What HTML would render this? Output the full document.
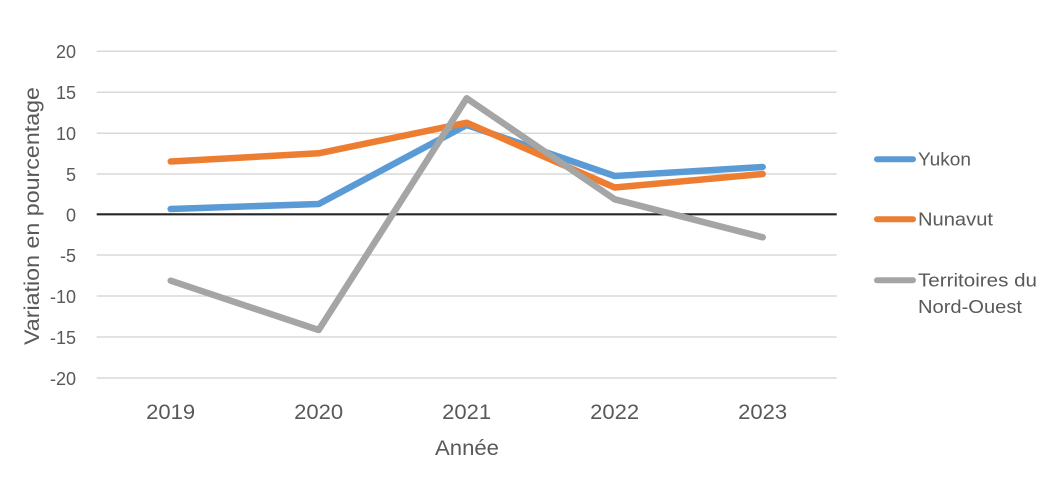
<!DOCTYPE html>
<html><head><meta charset="utf-8"><style>
html,body{margin:0;padding:0;background:#fff;}
svg{display:block;}
text{font-family:"Liberation Sans",sans-serif;fill:#595959;}
</style></head><body>
<svg width="1054" height="479" viewBox="0 0 1054 479" xmlns="http://www.w3.org/2000/svg">
<g stroke="#D9D9D9" stroke-width="1.5">
<line x1="96.7" y1="51.3" x2="836.7" y2="51.3"/>
<line x1="96.7" y1="92.3" x2="836.7" y2="92.3"/>
<line x1="96.7" y1="133.3" x2="836.7" y2="133.3"/>
<line x1="96.7" y1="174" x2="836.7" y2="174"/>
<line x1="96.7" y1="255" x2="836.7" y2="255"/>
<line x1="96.7" y1="296" x2="836.7" y2="296"/>
<line x1="96.7" y1="337" x2="836.7" y2="337"/>
<line x1="96.7" y1="378" x2="836.7" y2="378"/>
</g>
<line x1="96.7" y1="214.3" x2="836.7" y2="214.3" stroke="#262626" stroke-width="2.2"/>
<g font-size="18" text-anchor="end">
<text x="76" y="58">20</text>
<text x="76" y="99">15</text>
<text x="76" y="140">10</text>
<text x="76" y="181">5</text>
<text x="76" y="221.5">0</text>
<text x="76" y="262">-5</text>
<text x="76" y="303">-10</text>
<text x="76" y="344">-15</text>
<text x="76" y="385">-20</text>
</g>
<g font-size="21" text-anchor="middle">
<text x="170.7" y="419" textLength="49" lengthAdjust="spacingAndGlyphs">2019</text>
<text x="318.7" y="419" textLength="49" lengthAdjust="spacingAndGlyphs">2020</text>
<text x="466.7" y="419" textLength="49" lengthAdjust="spacingAndGlyphs">2021</text>
<text x="614.7" y="419" textLength="49" lengthAdjust="spacingAndGlyphs">2022</text>
<text x="762.7" y="419" textLength="49" lengthAdjust="spacingAndGlyphs">2023</text>
</g>
<text x="467" y="455" font-size="21" text-anchor="middle" textLength="64" lengthAdjust="spacingAndGlyphs">Année</text>
<text transform="translate(39,216) rotate(-90)" font-size="21" text-anchor="middle" textLength="258" lengthAdjust="spacingAndGlyphs">Variation en pourcentage</text>
<g fill="none" stroke-width="6.5" stroke-linejoin="round" stroke-linecap="round">
<polyline stroke="#5B9BD5" points="170.7,209 318.7,204 466.7,125 614.7,176 762.7,167"/>
<polyline stroke="#ED7D31" points="170.7,161.5 318.7,153.3 466.7,122.7 614.7,187.5 762.7,174"/>
<polyline stroke="#A5A5A5" points="170.7,280.7 318.7,330 466.7,98.3 614.7,199.3 762.7,237.3"/>
</g>
<g stroke-width="6" stroke-linecap="round">
<line x1="877" y1="159.3" x2="913" y2="159.3" stroke="#5B9BD5"/>
<line x1="877" y1="219.3" x2="913" y2="219.3" stroke="#ED7D31"/>
<line x1="877" y1="280.3" x2="913" y2="280.3" stroke="#A5A5A5"/>
</g>
<g font-size="18">
<text x="918" y="165.5" textLength="53" lengthAdjust="spacingAndGlyphs">Yukon</text>
<text x="918" y="225.5" textLength="75" lengthAdjust="spacingAndGlyphs">Nunavut</text>
<text x="918" y="286.5" textLength="119" lengthAdjust="spacingAndGlyphs">Territoires du</text>
<text x="918" y="313" textLength="104" lengthAdjust="spacingAndGlyphs">Nord-Ouest</text>
</g>
</svg>
</body></html>
